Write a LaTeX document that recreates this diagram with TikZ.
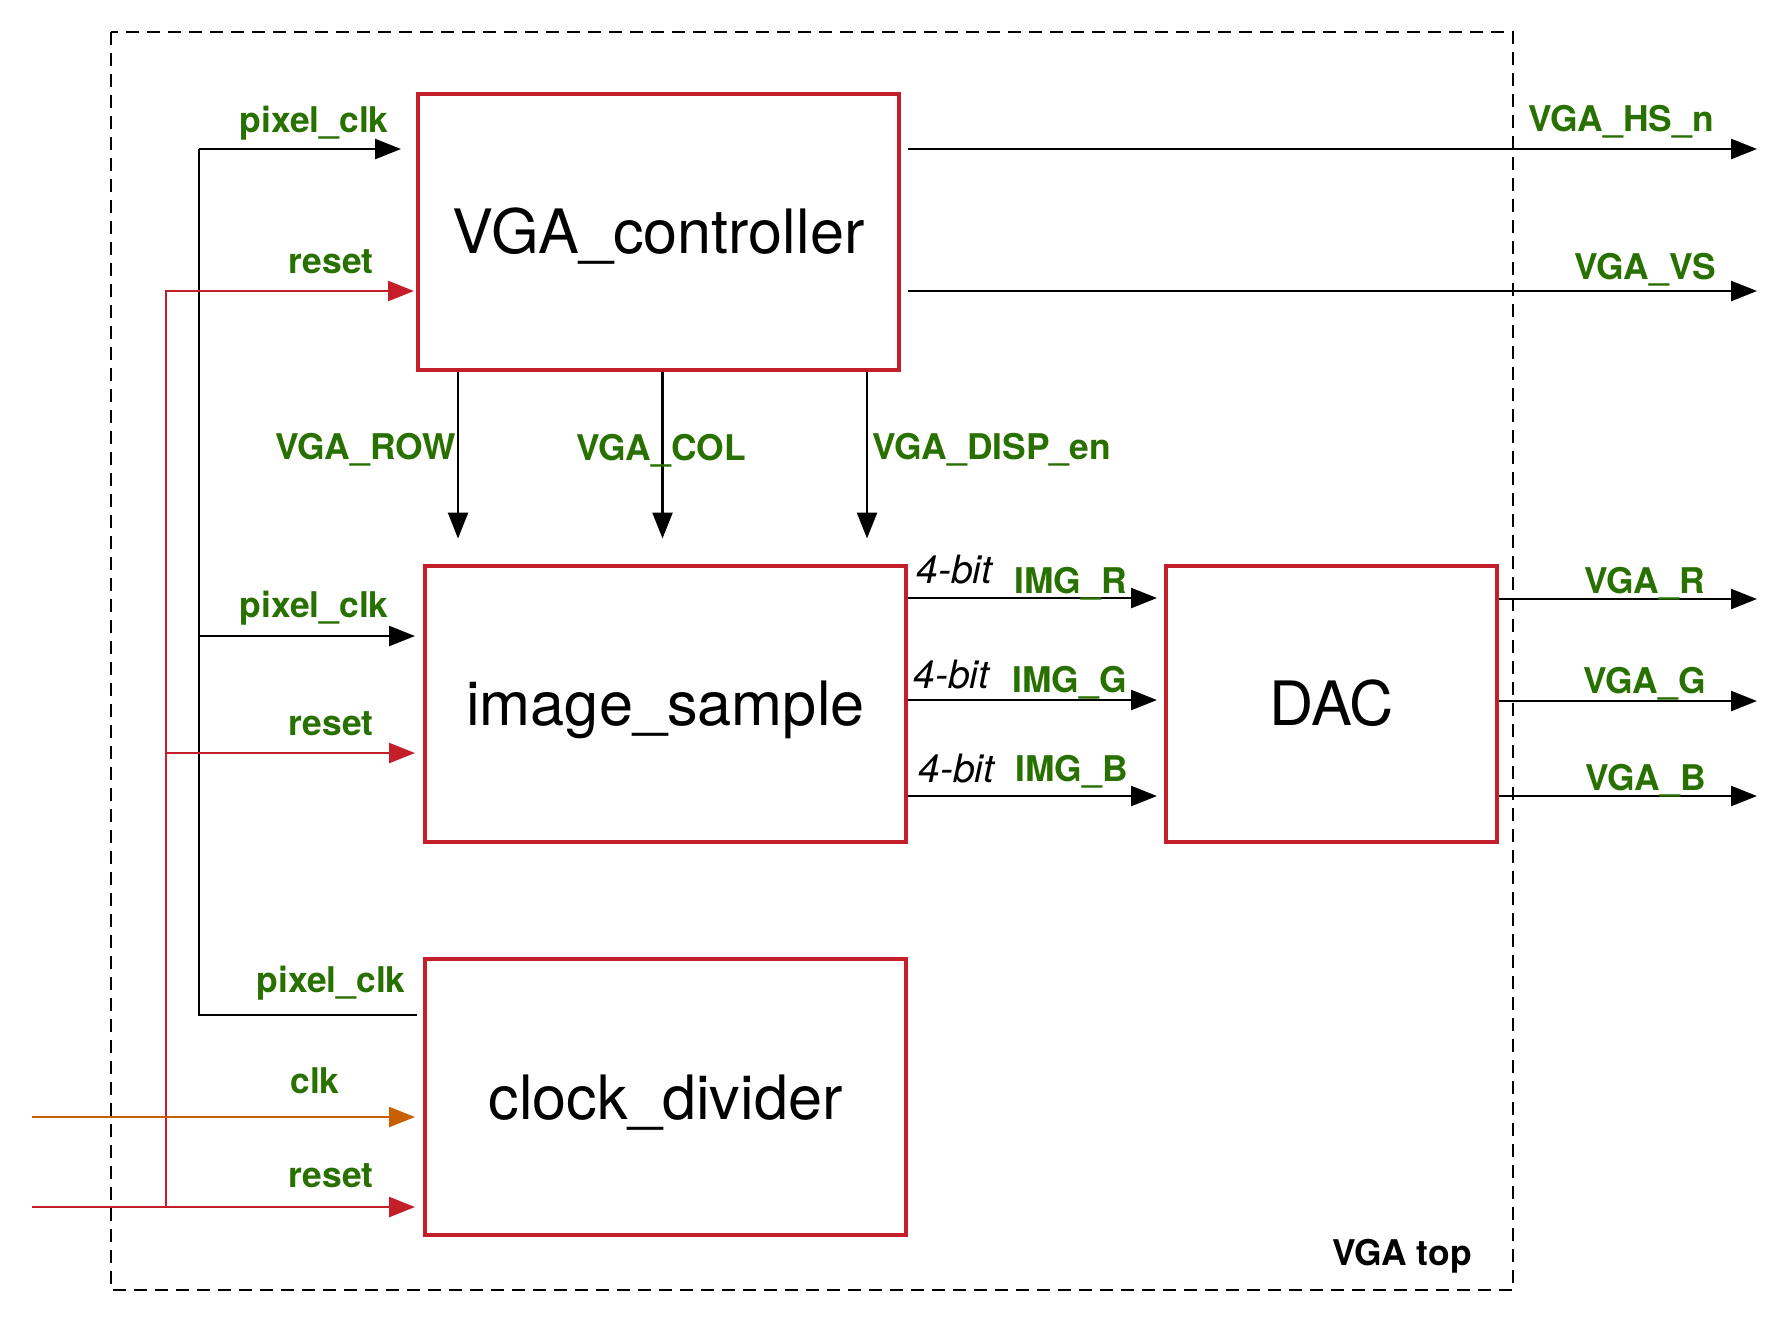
\documentclass[tikz,border=0pt]{standalone}
\usepackage{fontspec}
\setmainfont{TeX Gyre Heros}
\usetikzlibrary{arrows.meta, calc, positioning}

\definecolor{sigGreen}{RGB}{40,112,0}
\definecolor{boxRed}{RGB}{196,30,42}
\definecolor{clkOrange}{RGB}{200,95,0}

\begin{document}
\begin{tikzpicture}[x=0.5pt, y=-0.5pt,
  blockbox/.style={draw=boxRed, line width=2pt, inner sep=0pt,
    minimum width=240.5pt, minimum height=138pt, text height=22.3pt, text depth=0pt,
    font=\fontsize{30.6}{36}\selectfont},
  wire/.style={line width=1.25pt},
  sig/.style={wire, -{Triangle[length=13pt, width=10pt]}},
  rstsig/.style={sig, draw=boxRed},
  clksig/.style={sig, draw=clkOrange},
  lbl/.style={inner sep=0pt, anchor=base east, text=sigGreen,
    font=\fontsize{17.7}{21}\selectfont\bfseries},
  bits/.style={inner sep=0pt, anchor=base west, font=\fontsize{19.5}{23}\selectfont\itshape}]

\useasboundingbox (0,0) rectangle (1791,1324);

% VGA top frame
\draw[line width=1pt, dash pattern=on 6.5pt off 4pt] (111,32) rectangle (1513,1290);
\node[inner sep=0pt, anchor=base east, font=\fontsize{17.7}{21}\selectfont\bfseries]
  (toplbl) at (1472,1265) {VGA top};

% blocks
\node[blockbox] (ctrl) at (658.5,231.5) {VGA\_controller};
\node[blockbox] (samp) at (665.5,703.5) {image\_sample};
\node[blockbox] (clkdiv) at (665.5,1097) {clock\_divider};
\node[blockbox, minimum width=165.5pt] (dac) at (1331.5,703.5) {DAC};

% bus points
\coordinate (pclk top) at (199,149);
\coordinate (pclk mid) at (199,636);
\coordinate (pclk bot) at (199,1015);
\coordinate (rst top) at (166,291);
\coordinate (rst mid) at (166,753);
\coordinate (rst bot) at (166,1207);
\coordinate (clk in) at (32,1117);
\coordinate (rst in) at (32,1207);

% pixel_clk bus
\draw[wire] ([xshift=-3pt]clkdiv.west |- pclk bot) -- (pclk bot) -- (pclk top);
\draw[sig, shorten >=7.5pt] (pclk top) -- (ctrl.west |- pclk top);
\draw[sig, shorten >=4pt] (pclk mid) -- (samp.west |- pclk mid);

% reset bus
\draw[rstsig, shorten >=1pt] (rst bot) -- (rst top) -- (ctrl.west |- rst top);
\draw[rstsig, shorten >=4pt] (rst mid) -- (samp.west |- rst mid);
\draw[rstsig, shorten >=4pt] (rst in) -- (clkdiv.west |- rst in);

% clk input
\draw[clksig, shorten >=4pt] (clk in) -- (clkdiv.west |- clk in);

\node[lbl] (ctrl clk) at (389,132) {pixel\_clk};
\node[lbl] (ctrl rst) at (374,273) {reset};
\node[lbl] (samp clk) at (389,617) {pixel\_clk};
\node[lbl] (samp rst) at (374,735) {reset};
\node[lbl] (div pclk) at (406,992) {pixel\_clk};
\node[lbl] (div clk) at (340,1093) {clk};
\node[lbl] (div rst) at (374,1187) {reset};

% sync outputs
\coordinate (hs out) at (1757,149);
\coordinate (vs out) at (1757,291);
\draw[sig, shorten <=3.5pt] (ctrl.east |- hs out) -- (hs out);
\draw[sig, shorten <=3.5pt] (ctrl.east |- vs out) -- (vs out);
\node[lbl] (hs lbl) at (1714,131) {VGA\_HS\_n};
\node[lbl] (vs lbl) at (1716,279) {VGA\_VS};

% controller to image_sample
\coordinate (row x) at (458,0);
\coordinate (col x) at (662.5,0);
\coordinate (disp x) at (867,0);
\draw[sig, shorten >=12.5pt] (ctrl.south -| row x) -- (samp.north -| row x);
\draw[sig, shorten >=12.5pt] (ctrl.south -| col x) -- (samp.north -| col x);
\draw[sig, shorten >=12.5pt] (ctrl.south -| disp x) -- (samp.north -| disp x);
\node[lbl] (row lbl) at (456,459) {VGA\_ROW};
\node[lbl] (col lbl) at (746,460) {VGA\_COL};
\node[lbl] (disp lbl) at (1111,459) {VGA\_DISP\_en};

% image_sample to DAC
\coordinate (r y) at (0,598);
\coordinate (g y) at (0,700);
\coordinate (b y) at (0,796);
\draw[sig, shorten >=3.5pt] (samp.east |- r y) -- (dac.west |- r y);
\draw[sig, shorten >=3.5pt] (samp.east |- g y) -- (dac.west |- g y);
\draw[sig, shorten >=3.5pt] (samp.east |- b y) -- (dac.west |- b y);
\node[bits] (r bits) at (916,583) {4-bit};
\node[bits] (g bits) at (913,688) {4-bit};
\node[bits] (b bits) at (918,782) {4-bit};
\node[lbl] (img r) at (1127,593) {IMG\_R};
\node[lbl] (img g) at (1127,692) {IMG\_G};
\node[lbl] (img b) at (1128,781) {IMG\_B};

% DAC outputs
\coordinate (vga r) at (1757,599);
\coordinate (vga g) at (1757,701);
\coordinate (vga b) at (1757,796);
\draw[sig] (dac.east |- vga r) -- (vga r);
\draw[sig] (dac.east |- vga g) -- (vga g);
\draw[sig] (dac.east |- vga b) -- (vga b);
\node[lbl] (r lbl) at (1705,593) {VGA\_R};
\node[lbl] (g lbl) at (1706,693) {VGA\_G};
\node[lbl] (b lbl) at (1706,790) {VGA\_B};

\end{tikzpicture}
\end{document}
